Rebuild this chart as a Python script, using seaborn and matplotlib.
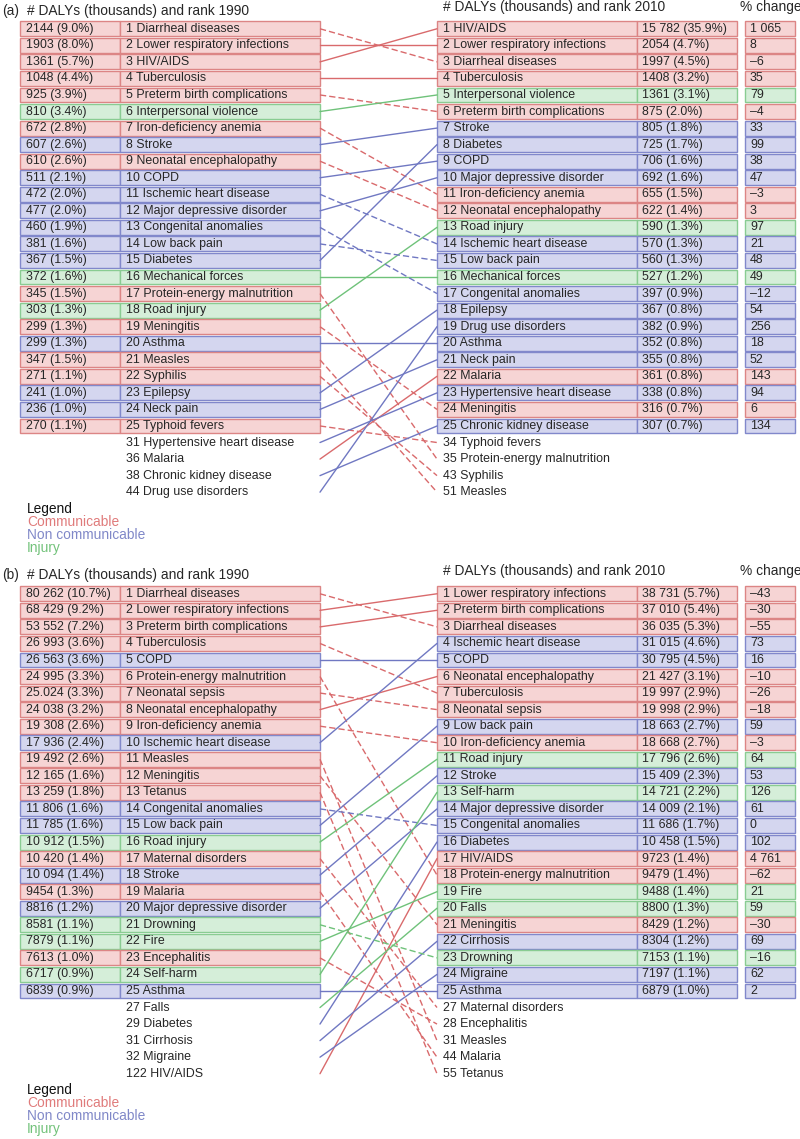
import numpy as np
import pandas as pd
import matplotlib.pyplot as plt
import seaborn as sns
from matplotlib.patches import Rectangle

sns.set_style("white")
plt.rcParams['font.family'] = ['Liberation Sans', 'DejaVu Sans']

# ---------------- panel (a) ----------------
a_names_1990 = ["Diarrheal diseases", "Lower respiratory infections", "HIV/AIDS", "Tuberculosis",
                "Preterm birth complications", "Interpersonal violence", "Iron-deficiency anemia",
                "Stroke", "Neonatal encephalopathy", "COPD", "Ischemic heart disease",
                "Major depressive disorder", "Congenital anomalies", "Low back pain", "Diabetes",
                "Mechanical forces", "Protein-energy malnutrition", "Road injury", "Meningitis",
                "Asthma", "Measles", "Syphilis", "Epilepsy", "Neck pain", "Typhoid fevers",
                "Hypertensive heart disease", "Malaria", "Chronic kidney disease", "Drug use disorders"]
a_ranks_1990 = list(range(1, 26)) + [31, 36, 38, 44]
a_cats_1990 = list("CCCCCICNCNNNNNNICICNCCNNC") + list("NCNN")
a_dalys_1990 = ["2144 (9.0%)", "1903 (8.0%)", "1361 (5.7%)", "1048 (4.4%)", "925 (3.9%)",
                "810 (3.4%)", "672 (2.8%)", "607 (2.6%)", "610 (2.6%)", "511 (2.1%)",
                "472 (2.0%)", "477 (2.0%)", "460 (1.9%)", "381 (1.6%)", "367 (1.5%)",
                "372 (1.6%)", "345 (1.5%)", "303 (1.3%)", "299 (1.3%)", "299 (1.3%)",
                "347 (1.5%)", "271 (1.1%)", "241 (1.0%)", "236 (1.0%)", "270 (1.1%)"]

a_names_2010 = ["HIV/AIDS", "Lower respiratory infections", "Diarrheal diseases", "Tuberculosis",
                "Interpersonal violence", "Preterm birth complications", "Stroke", "Diabetes",
                "COPD", "Major depressive disorder", "Iron-deficiency anemia",
                "Neonatal encephalopathy", "Road injury", "Ischemic heart disease",
                "Low back pain", "Mechanical forces", "Congenital anomalies", "Epilepsy",
                "Drug use disorders", "Asthma", "Neck pain", "Malaria",
                "Hypertensive heart disease", "Meningitis", "Chronic kidney disease",
                "Typhoid fevers", "Protein-energy malnutrition", "Syphilis", "Measles"]
a_ranks_2010 = list(range(1, 26)) + [34, 35, 43, 51]
a_cats_2010 = list("CCCCICNNNNCCINNINNNNNCNCN") + list("CCCC")
a_dalys_2010 = ["15 782 (35.9%)", "2054 (4.7%)", "1997 (4.5%)", "1408 (3.2%)", "1361 (3.1%)",
                "875 (2.0%)", "805 (1.8%)", "725 (1.7%)", "706 (1.6%)", "692 (1.6%)",
                "655 (1.5%)", "622 (1.4%)", "590 (1.3%)", "570 (1.3%)", "560 (1.3%)",
                "527 (1.2%)", "397 (0.9%)", "367 (0.8%)", "382 (0.9%)", "352 (0.8%)",
                "355 (0.8%)", "361 (0.8%)", "338 (0.8%)", "316 (0.7%)", "307 (0.7%)"]
a_change = ["1 065", "8", "–6", "35", "79", "–4", "33", "99", "38", "47", "–3", "3", "97",
            "21", "48", "49", "–12", "54", "256", "18", "52", "143", "94", "6", "134"]

# ---------------- panel (b) ----------------
b_names_1990 = ["Diarrheal diseases", "Lower respiratory infections", "Preterm birth complications",
                "Tuberculosis", "COPD", "Protein-energy malnutrition", "Neonatal sepsis",
                "Neonatal encephalopathy", "Iron-deficiency anemia", "Ischemic heart disease",
                "Measles", "Meningitis", "Tetanus", "Congenital anomalies", "Low back pain",
                "Road injury", "Maternal disorders", "Stroke", "Malaria",
                "Major depressive disorder", "Drowning", "Fire", "Encephalitis", "Self-harm",
                "Asthma", "Falls", "Diabetes", "Cirrhosis", "Migraine", "HIV/AIDS"]
b_ranks_1990 = list(range(1, 26)) + [27, 29, 31, 32, 122]
b_cats_1990 = list("CCCCNCCCCNCCCNNICNCNIICIN") + list("INNNC")
b_dalys_1990 = ["80 262 (10.7%)", "68 429 (9.2%)", "53 552 (7.2%)", "26 993 (3.6%)",
                "26 563 (3.6%)", "24 995 (3.3%)", "25.024 (3.3%)", "24 038 (3.2%)",
                "19 308 (2.6%)", "17 936 (2.4%)", "19 492 (2.6%)", "12 165 (1.6%)",
                "13 259 (1.8%)", "11 806 (1.6%)", "11 785 (1.6%)", "10 912 (1.5%)",
                "10 420 (1.4%)", "10 094 (1.4%)", "9454 (1.3%)", "8816 (1.2%)",
                "8581 (1.1%)", "7879 (1.1%)", "7613 (1.0%)", "6717 (0.9%)", "6839 (0.9%)"]

b_names_2010 = ["Lower respiratory infections", "Preterm birth complications", "Diarrheal diseases",
                "Ischemic heart disease", "COPD", "Neonatal encephalopathy", "Tuberculosis",
                "Neonatal sepsis", "Low back pain", "Iron-deficiency anemia", "Road injury",
                "Stroke", "Self-harm", "Major depressive disorder", "Congenital anomalies",
                "Diabetes", "HIV/AIDS", "Protein-energy malnutrition", "Fire", "Falls",
                "Meningitis", "Cirrhosis", "Drowning", "Migraine", "Asthma",
                "Maternal disorders", "Encephalitis", "Measles", "Malaria", "Tetanus"]
b_ranks_2010 = list(range(1, 26)) + [27, 28, 31, 44, 55]
b_cats_2010 = list("CCCNNCCCNCININNNCCIICNINN") + list("CCCCC")
b_dalys_2010 = ["38 731 (5.7%)", "37 010 (5.4%)", "36 035 (5.3%)", "31 015 (4.6%)",
                "30 795 (4.5%)", "21 427 (3.1%)", "19 997 (2.9%)", "19 998 (2.9%)",
                "18 663 (2.7%)", "18 668 (2.7%)", "17 796 (2.6%)", "15 409 (2.3%)",
                "14 721 (2.2%)", "14 009 (2.1%)", "11 686 (1.7%)", "10 458 (1.5%)",
                "9723 (1.4%)", "9479 (1.4%)", "9488 (1.4%)", "8800 (1.3%)",
                "8429 (1.2%)", "8304 (1.2%)", "7153 (1.1%)", "7197 (1.1%)", "6879 (1.0%)"]
b_change = ["–43", "–30", "–55", "73", "16", "–10", "–26", "–18", "59", "–3", "64", "53",
            "126", "61", "0", "102", "4 761", "–62", "21", "59", "–30", "69", "–16", "62", "2"]

legend_labels = ["Communicable", "Non communicable", "Injury"]

# colours
fill = {"C": "#f6d4d4", "N": "#d4d6ef", "I": "#d5eed9"}
edge = {"C": "#dc8585", "N": "#8188cb", "I": "#89cc92"}
line_col = {"C": "#d96a6c", "N": "#7078c2", "I": "#6fc27a"}
legend_col = ["#e07b7b", "#8088c8", "#72c27a"]
txt = "#262626"

PITCH = 16.55
FS = 8.9
TFS = 9.9

fig = plt.figure(figsize=(8, 11.39), dpi=100)
ax = fig.add_axes([0, 0, 1, 1])


def row_y(top, i):
    return top + (i + 0.5) * PITCH


def box(x0, x1, top, i, cat):
    ax.add_patch(Rectangle((x0, top + i * PITCH + 0.8), x1 - x0, PITCH - 1.6,
                           facecolor=fill[cat], edgecolor=edge[cat], lw=1.0, zorder=1))


def draw_panel(letter, top, title_y, names1, ranks1, cats1, dalys1,
               names2, ranks2, cats2, dalys2, change):
    # titles
    ax.text(2, title_y, f"({letter})", fontsize=TFS, va="center", color=txt)
    ax.text(27, title_y, "# DALYs (thousands) and rank 1990", fontsize=TFS, va="center", color=txt)
    ax.text(443, title_y - 4, "# DALYs (thousands) and rank 2010", fontsize=TFS, va="center", color=txt)
    ax.text(740, title_y - 4, "% change", fontsize=TFS, va="center", color=txt)

    # left table
    for i, (nm, rk, ct) in enumerate(zip(names1, ranks1, cats1)):
        y = row_y(top, i)
        if i < len(dalys1):
            box(20, 120, top, i, ct)
            box(120, 320, top, i, ct)
            ax.text(26, y, dalys1[i], fontsize=FS, va="center", color=txt, zorder=3)
        ax.text(126, y, f"{rk} {nm}", fontsize=FS, va="center", color=txt, zorder=3)

    # right table
    for i, (nm, rk, ct) in enumerate(zip(names2, ranks2, cats2)):
        y = row_y(top, i)
        if i < len(dalys2):
            box(437, 637, top, i, ct)
            box(637, 737, top, i, ct)
            box(745, 795, top, i, ct)
            ax.text(642, y, dalys2[i], fontsize=FS, va="center", color=txt, zorder=3)
            ax.text(750, y, change[i], fontsize=FS, va="center", color=txt, zorder=3)
        ax.text(443, y, f"{rk} {nm}", fontsize=FS, va="center", color=txt, zorder=3)

    # connecting lines
    rows = []
    for i, (nm, rk, ct) in enumerate(zip(names1, ranks1, cats1)):
        j = names2.index(nm)
        trend = "down" if ranks2[j] > rk else "up"
        rows.append(dict(disease=nm, x=320, y=row_y(top, i), cat=ct, trend=trend))
        rows.append(dict(disease=nm, x=437, y=row_y(top, j), cat=ct, trend=trend))
    df = pd.DataFrame(rows)
    sns.lineplot(data=df, x="x", y="y", units="disease", estimator=None, sort=False,
                 hue="cat", palette=line_col, style="trend",
                 dashes={"up": "", "down": (4.5, 2.2)}, lw=1.0, legend=False, ax=ax)

    # legend text
    n_extra = max(len(names1), len(names2)) - 25
    ly = top + (25 + n_extra + 0.5) * PITCH
    ax.text(27, ly, "Legend", fontsize=TFS, va="center", color="#111111")
    for k, (lab, col) in enumerate(zip(legend_labels, legend_col)):
        ax.text(27, ly + 13 * (k + 1), lab, fontsize=TFS, va="center", color=col)


draw_panel("a", 20.5, 11, a_names_1990, a_ranks_1990, a_cats_1990, a_dalys_1990,
           a_names_2010, a_ranks_2010, a_cats_2010, a_dalys_2010, a_change)
draw_panel("b", 585.5, 575, b_names_1990, b_ranks_1990, b_cats_1990, b_dalys_1990,
           b_names_2010, b_ranks_2010, b_cats_2010, b_dalys_2010, b_change)

ax.set_xlim(0, 800)
ax.set_ylim(1139, 0)
ax.axis("off")

fig.savefig("out.png", dpi=100)
